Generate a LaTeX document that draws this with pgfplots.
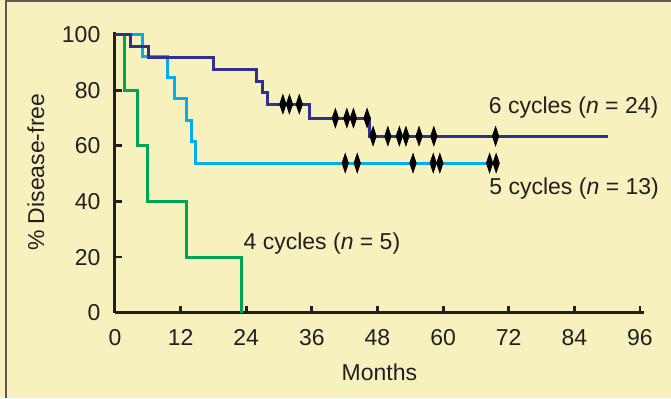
\documentclass[border=0pt]{standalone}
\usepackage{pgfplots}
\pgfplotsset{compat=1.18}
\usepackage{fontspec}
\setmainfont{Liberation Sans}
\definecolor{bg}{HTML}{F7F1BE}
\definecolor{navy}{HTML}{2E3192}
\definecolor{cyanb}{HTML}{00AEEF}
\definecolor{greenb}{HTML}{00A651}
\definecolor{ink}{HTML}{231F20}
\begin{document}
\fontsize{11.5}{13.5}\selectfont
\begin{tikzpicture}
\fill[bg] (-57.5pt,-42.65pt) rectangle (278pt,156.35pt);
\draw[gray!70!black, line width=1pt] (-54.5pt,-42.65pt) -- (-54.5pt,155.85pt) -- (278pt,155.85pt);
\begin{axis}[
  at={(0,0)}, anchor=south west,
  scale only axis, width=264.4pt, height=140.4pt,
  xmin=0, xmax=96.7, ymin=0, ymax=101,
  axis lines=left,
  axis line style={-, line width=1.5pt, ink},
  xtick={0,12,...,96}, ytick={0,20,...,100},
  tick align=inside, major tick length=3.5pt,
  tick style={line width=1.4pt, ink},
  /pgf/number format/assume math mode=true,
  ticklabel style={font=\fontsize{11.5}{13.5}\selectfont, text=ink},
  xticklabel style={yshift=-4.3pt},
  yticklabel style={xshift=-3.3pt},
  xlabel={Months}, ylabel={\% Disease-free},
  label style={font=\fontsize{11.5}{13.5}\selectfont, text=ink},
  xlabel style={at={(axis description cs:0.5,0)}, yshift=-29.6pt, anchor=center},
  ylabel style={at={(axis description cs:-0.1494,0.5)}, anchor=center},
  clip=false,
]
% 4 cycles (n = 5)
\addplot[const plot, greenb, line width=1.5pt] coordinates {
  (0,100) (1.7,80) (4.2,60) (6.0,40) (13.0,20) (23.2,0)
};
% 5 cycles (n = 13)
\addplot[const plot, cyanb, line width=1.5pt] coordinates {
  (0,100) (5.0,92.3) (9.6,84.6) (10.8,76.9) (13.0,69.2) (13.9,61.5) (14.8,53.8) (69.7,53.8)
};
% 6 cycles (n = 24)
\addplot[const plot, navy, line width=1.5pt] coordinates {
  (0,100) (2.9,95.8) (6.2,91.7) (18.1,87.5) (25.8,83.3) (27.0,79.2) (27.9,75) (35.5,70) (46.5,63.5) (90.2,63.5)
};
% censored marks
\addplot[only marks, mark=diamond*, mark size=4.7pt, mark options={xscale=0.45, fill=black, draw=none}] coordinates {
  (30.7,75) (31.9,75) (33.7,75)
  (40.3,70) (42.4,70) (43.6,70) (46.1,70)
  (47.2,63.5) (49.9,63.5) (52.0,63.5) (53.2,63.5) (55.6,63.5) (58.3,63.5) (69.6,63.5)
};
\addplot[only marks, mark=diamond*, mark size=4.7pt, mark options={xscale=0.45, fill=black, draw=none}] coordinates {
  (42.1,53.8) (44.3,53.8) (54.5,53.8) (58.2,53.8) (59.4,53.8) (68.5,53.8) (69.7,53.8)
};
\node[anchor=base west, inner sep=0pt, text=ink] at (axis cs:68.3,71.8) {6 cycles (\textit{n} = 24)};
\node[anchor=base west, inner sep=0pt, text=ink] at (axis cs:68.4,42.6) {5 cycles (\textit{n} = 13)};
\node[anchor=base west, inner sep=0pt, text=ink] at (axis cs:23.45,22.8) {4 cycles (\textit{n} = 5)};
\end{axis}
\pgfresetboundingbox
\path[use as bounding box] (-57.5pt,-42.65pt) rectangle (278pt,156.35pt);
\end{tikzpicture}
\end{document}
